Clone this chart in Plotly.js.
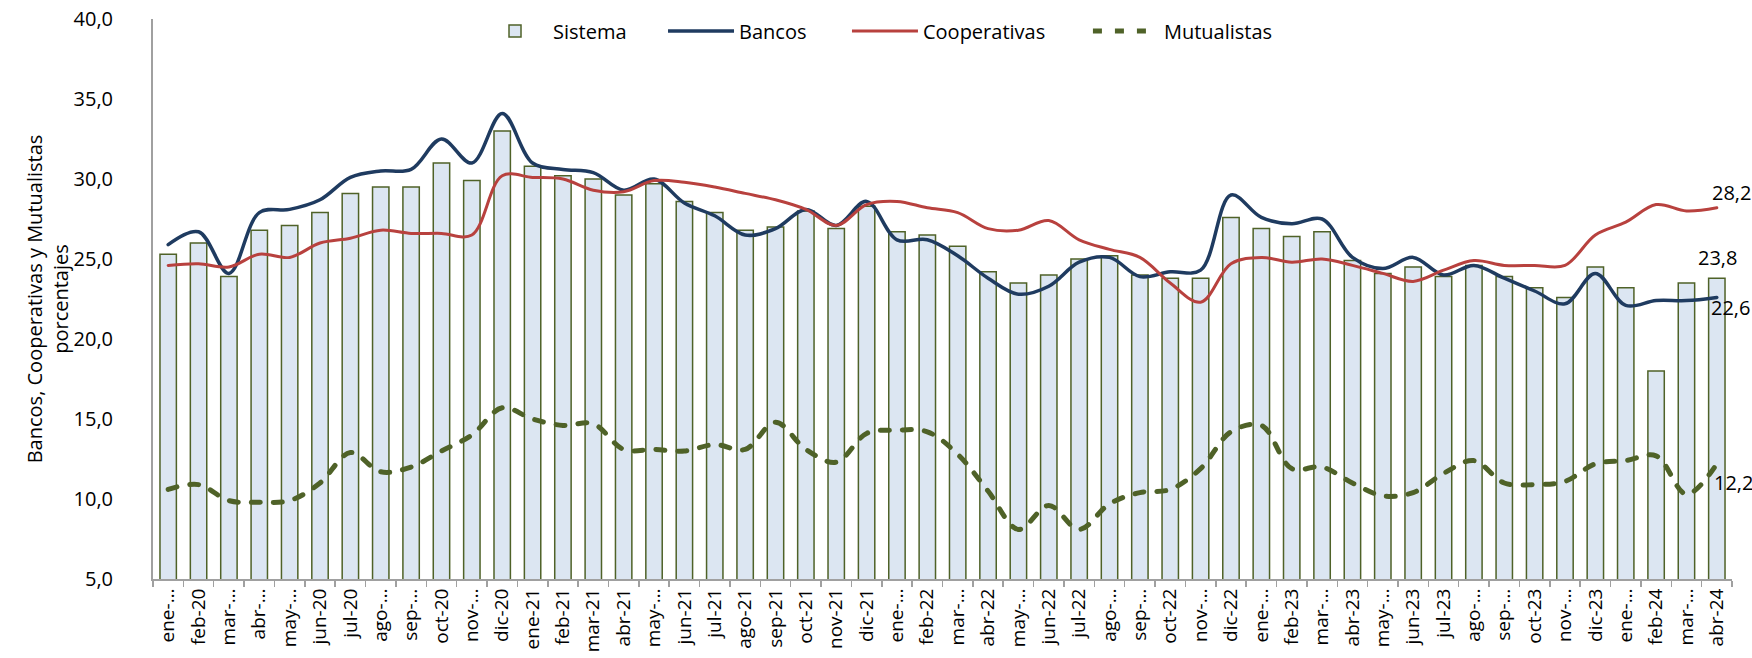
<!DOCTYPE html>
<html>
<head>
<meta charset="utf-8">
<script src="https://cdn.plot.ly/plotly-3.0.1.min.js"></script>
<style>html,body{margin:0;padding:0;background:#fff;}#chart{width:1752px;height:658px;}
#chart .scatterlayer .js-line, #chart .legend path.js-line{stroke-linecap:round;}</style>
</head>
<body>
<div id="chart"></div>
<script>
const months = [
 'ene-20','feb-20','mar-20','abr-20','may-20','jun-20','jul-20','ago-20','sep-20','oct-20','nov-20','dic-20',
 'ene-21','feb-21','mar-21','abr-21','may-21','jun-21','jul-21','ago-21','sep-21','oct-21','nov-21','dic-21',
 'ene-22','feb-22','mar-22','abr-22','may-22','jun-22','jul-22','ago-22','sep-22','oct-22','nov-22','dic-22',
 'ene-23','feb-23','mar-23','abr-23','may-23','jun-23','jul-23','ago-23','sep-23','oct-23','nov-23','dic-23',
 'ene-24','feb-24','mar-24','abr-24'];
const tickLabels = [
 'ene-…','feb-20','mar-…','abr-…','may-…','jun-20','jul-20','ago-…','sep-…','oct-20','nov-…','dic-20',
 'ene-21','feb-21','mar-21','abr-21','may-…','jun-21','jul-21','ago-21','sep-21','oct-21','nov-21','dic-21',
 'ene-…','feb-22','mar-…','abr-22','may-…','jun-22','jul-22','ago-…','sep-…','oct-22','nov-…','dic-22',
 'ene-…','feb-23','mar-…','abr-23','may-…','jun-23','jul-23','ago-…','sep-…','oct-23','nov-…','dic-23',
 'ene-…','feb-24','mar-…','abr-24'];
const sistema = [
 25.3,26.0,23.9,26.8,27.1,27.9,29.1,29.5,29.5,31.0,29.9,33.0,
 30.8,30.2,30.0,29.0,29.7,28.6,27.9,26.8,27.0,28.0,26.9,28.3,
 26.7,26.5,25.8,24.2,23.5,24.0,25.0,25.2,24.0,23.8,23.8,27.6,
 26.9,26.4,26.7,24.9,24.1,24.5,23.9,24.6,23.9,23.2,22.6,24.5,
 23.2,18.0,23.5,23.8];
const bancos = [
 25.9,26.7,24.1,27.9,28.1,28.7,30.1,30.5,30.6,32.5,31.0,34.1,
 31.0,30.6,30.4,29.3,30.0,28.5,27.7,26.5,26.9,28.1,27.1,28.6,
 26.2,26.2,25.2,23.8,22.8,23.3,24.8,25.1,23.9,24.2,24.3,29.0,
 27.6,27.2,27.5,25.1,24.4,25.1,24.0,24.6,23.8,23.0,22.2,24.1,
 22.1,22.4,22.4,22.6];
const cooperativas = [
 24.6,24.7,24.5,25.3,25.1,26.0,26.3,26.8,26.6,26.6,26.5,30.2,
 30.1,30.0,29.3,29.2,29.9,29.8,29.5,29.1,28.7,28.1,27.1,28.4,
 28.6,28.2,27.9,26.9,26.8,27.4,26.2,25.6,25.1,23.5,22.3,24.7,
 25.1,24.8,25.0,24.6,24.1,23.6,24.3,24.9,24.6,24.6,24.6,26.5,
 27.3,28.4,28.0,28.2];
const mutualistas = [
 10.6,10.9,9.9,9.8,9.9,11.0,12.9,11.7,12.0,13.0,14.0,15.7,
 15.0,14.6,14.7,13.1,13.1,13.0,13.4,13.1,14.8,13.1,12.3,14.1,
 14.3,14.2,12.8,10.5,8.1,9.6,8.1,9.7,10.4,10.6,11.9,14.2,
 14.6,11.9,12.0,11.0,10.2,10.4,11.6,12.4,11.0,10.9,11.1,12.2,
 12.4,12.7,10.3,12.2];

const FONT = 'Open Sans, Noto Sans, sans-serif';
const fmt = v => v.toFixed(1).replace('.', ',');
const last = months.length - 1;

const traces = [
 {type:'bar', name:'Sistema', x:months, y:sistema, legend:'legend',
  marker:{color:'#dce6f2', line:{color:'#4f6228', width:1.5}}},
 {type:'scatter', mode:'lines', name:'Bancos', x:months, y:bancos, legend:'legend2',
  line:{color:'#1f3b60', width:3.5, shape:'spline', smoothing:1}},
 {type:'scatter', mode:'lines', name:'Cooperativas', x:months, y:cooperativas, legend:'legend3',
  line:{color:'#b8413e', width:3, shape:'spline', smoothing:1}},
 {type:'scatter', mode:'lines', name:'Mutualistas', x:months, y:mutualistas, legend:'legend4',
  line:{color:'#4f6228', width:5, dash:'9px,13px', shape:'spline', smoothing:1}}
];

const legFont = {family:FONT, size:20, color:'#000'};
function leg(x){
 return {orientation:'h', x:x, xanchor:'left', y:0.977, yanchor:'middle', itemwidth:66,
  font:legFont, bgcolor:'rgba(0,0,0,0)', borderwidth:0};
}
const annFont = {family:FONT, size:20, color:'#000'};
const layout = {
 width:1752, height:658,
 margin:{l:153, r:20, t:18, b:79},
 paper_bgcolor:'#fff', plot_bgcolor:'#fff',
 separators:',.',
 font:{family:FONT, size:20, color:'#000'},
 bargap:0.46,
 showlegend:true,
 legend:leg(0.2052), legend2:leg(0.3230), legend3:leg(0.4395), legend4:leg(0.5921),
 xaxis:{type:'category', range:[-0.5, last+0.5], tickmode:'array', tickvals:months, ticktext:tickLabels,
  tickangle:-90, ticks:'outside', tickson:'boundaries', ticklen:6, tickcolor:'#a0a0a0', tickwidth:1.5,
  showline:true, linecolor:'#a0a0a0', linewidth:2, showgrid:false, zeroline:false,
  tickfont:{family:FONT, size:19, color:'#000'}},
 yaxis:{range:[5,40], dtick:5, tick0:5, tickformat:'.1f', showline:true, linecolor:'#a0a0a0', linewidth:2,
  showgrid:false, zeroline:false, ticks:'', ticklabelstandoff:34,
  tickfont:{family:FONT, size:20, color:'#000'},
  title:{text:'Bancos, Cooperativas y Mutualistas<br>porcentajes', standoff:0, font:{family:FONT, size:20, color:'#000'}}},
 annotations:[
  {x:months[last], y:cooperativas[last], text:fmt(cooperativas[last]), showarrow:false, xanchor:'left', xshift:-7, yshift:15, font:annFont},
  {x:months[last], y:sistema[last], text:fmt(sistema[last]), showarrow:false, xanchor:'center', xshift:1, yshift:21, font:annFont},
  {x:months[last], y:bancos[last], text:fmt(bancos[last]), showarrow:false, xanchor:'left', xshift:-8, yshift:-10, font:annFont},
  {x:months[last], y:mutualistas[last], text:fmt(mutualistas[last]), showarrow:false, xanchor:'left', xshift:-5, yshift:-19, font:annFont}
 ]
};
Plotly.newPlot('chart', traces, layout, {displayModeBar:false, staticPlot:true});
</script>
</body>
</html>
